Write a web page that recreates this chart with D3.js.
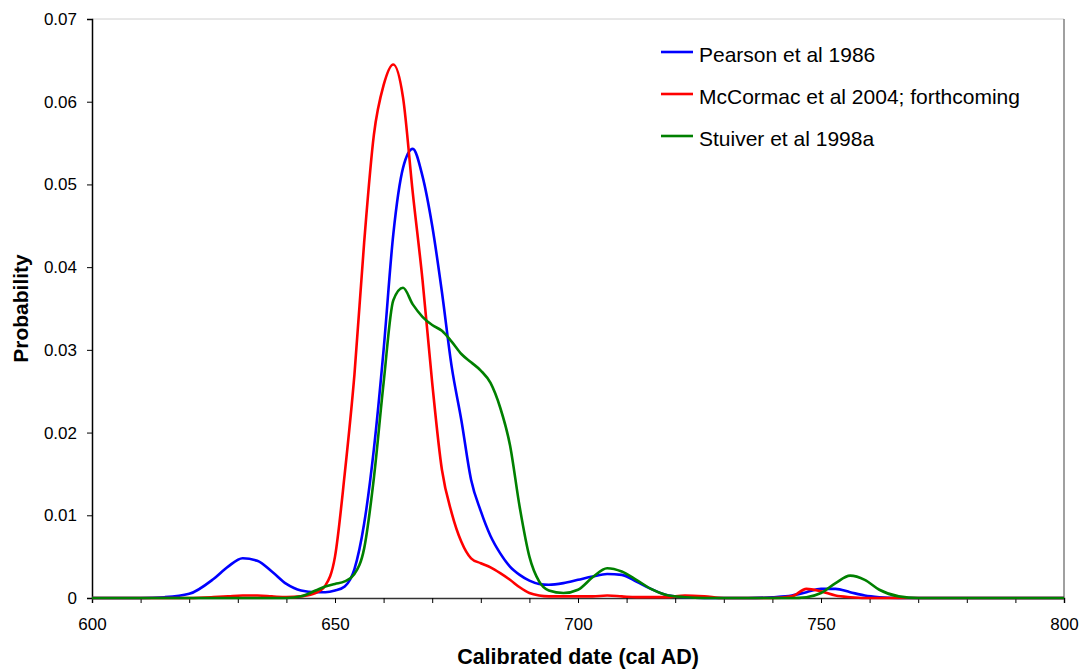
<!DOCTYPE html>
<html>
<head>
<meta charset="utf-8">
<script src="https://cdn.jsdelivr.net/npm/d3@7/dist/d3.min.js"></script>
<style>
  body { margin: 0; background: #fff; }
  text { font-family: "Liberation Sans", Arial, sans-serif; fill: #000; }
</style>
</head>
<body>
<div id="chart"></div>
<script>
// sample years shared by all three calibration curves
var years = [600, 610, 615, 620, 625, 628, 631, 634, 637, 640, 643, 646, 648, 650, 652, 654, 656, 658, 660, 662,
  664, 666, 668, 670, 672, 674, 676, 678, 680, 682, 684, 686, 688, 690, 692, 694, 697, 700, 703, 706,
  709, 712, 715, 718, 722, 726, 730, 735, 740, 744, 747, 750, 753, 756, 759, 762, 766, 770, 780, 800];

var pearson = [0, 0, 0.0001, 0.0005, 0.0023, 0.0038, 0.0048, 0.0045, 0.0032, 0.0017, 0.0009, 0.0007, 0.0007, 0.0009, 0.0014, 0.0035, 0.009, 0.018, 0.030, 0.044,
  0.052, 0.0543, 0.051, 0.045, 0.037, 0.028, 0.0215, 0.0143, 0.0105, 0.0075, 0.0054, 0.0038, 0.0028, 0.0021, 0.0017, 0.0016, 0.0018, 0.0022, 0.0026, 0.0029,
  0.0028, 0.002, 0.0011, 0.0004, 0.0001, 0, 0, 0, 0.0001, 0.0003, 0.0007, 0.0011, 0.0011, 0.0007, 0.0003, 0.0001, 0, 0, 0, 0];

var mccormac = [0, 0, 0, 0, 0.0001, 0.0002, 0.0003, 0.0003, 0.0002, 0.0001, 0.0002, 0.0006, 0.0015, 0.005, 0.015, 0.027, 0.043, 0.056, 0.062, 0.0645,
  0.0605, 0.049, 0.0385, 0.026, 0.0155, 0.0103, 0.0068, 0.0048, 0.0042, 0.0037, 0.003, 0.0022, 0.0013, 0.0006, 0.0003, 0.0002, 0.0002, 0.0002, 0.0002, 0.0003,
  0.0002, 0.0001, 0.0001, 0.0001, 0.0003, 0.0002, 0, 0, 0, 0.0002, 0.0011, 0.0008, 0.0003, 0.0001, 0, 0, 0, 0, 0, 0];

var stuiver = [0, 0, 0, 0, 0, 0, 0, 0, 0, 0, 0.0002, 0.0009, 0.0014, 0.0017, 0.002, 0.0029, 0.006, 0.0145, 0.026, 0.036,
  0.0375, 0.0355, 0.034, 0.033, 0.0323, 0.031, 0.0295, 0.0285, 0.0275, 0.026, 0.023, 0.0185, 0.011, 0.005, 0.002, 0.0009, 0.0006, 0.001, 0.0025, 0.0036,
  0.0032, 0.0022, 0.0011, 0.0004, 0.0001, 0, 0, 0, 0, 0, 0.0001, 0.0006, 0.0018, 0.0027, 0.0022, 0.001, 0.0002, 0, 0, 0];

var seriesNames = ['Pearson et al 1986', 'McCormac et al 2004; forthcoming', 'Stuiver et al 1998a'];
var seriesColors = ['#0000ff', '#ff0000', '#008000'];
var seriesValues = [pearson, mccormac, stuiver];

var yTicks = [0, 0.01, 0.02, 0.03, 0.04, 0.05, 0.06, 0.07];
var xLabels = [600, 650, 700, 750, 800];

var width = 1081, height = 670;
var margin = { left: 92, right: 17, top: 19, bottom: 72 };

var svg = d3.select('#chart').append('svg')
  .attr('width', width)
  .attr('height', height);

var x = d3.scaleLinear().domain([600, 800]).range([margin.left, width - margin.right]);
var y = d3.scaleLinear().domain([0, 0.07]).range([height - margin.bottom, margin.top]);

// frame (top / right)
svg.append('line')
  .attr('x1', x(600)).attr('x2', x(800))
  .attr('y1', y(0.07)).attr('y2', y(0.07))
  .attr('stroke', '#d0d0d0').attr('stroke-width', 1);
svg.append('line')
  .attr('x1', x(800)).attr('x2', x(800))
  .attr('y1', y(0.07)).attr('y2', y(0))
  .attr('stroke', '#808080').attr('stroke-width', 1.5);

// y axis
var yAxis = svg.append('g')
  .attr('transform', 'translate(' + x(600) + ',0)')
  .call(d3.axisLeft(y).tickValues(yTicks).tickSize(5).tickPadding(10)
    .tickFormat(function(d){ return d === 0 ? '0' : d3.format('.2f')(d); }));
yAxis.select('.domain').attr('stroke', '#000').attr('stroke-width', 1.5);
yAxis.selectAll('text').style('font-size', '17px');

// x axis, ticks every 10 years, labels every 50
var xAxis = svg.append('g')
  .attr('transform', 'translate(0,' + y(0) + ')')
  .call(d3.axisBottom(x).tickValues(d3.range(600, 801, 10)).tickSize(5).tickPadding(15)
    .tickFormat(function(d){ return xLabels.indexOf(d) >= 0 ? d : ''; }));
xAxis.select('.domain').attr('stroke', '#333').attr('stroke-width', 1.5);
xAxis.selectAll('text').style('font-size', '17px');

// curves
var line = d3.line()
  .x(function(d){ return x(d[0]); })
  .y(function(d){ return y(d[1]); })
  .curve(d3.curveMonotoneX);

seriesValues.forEach(function(vals, i){
  var pts = years.map(function(yr, j){ return [yr, vals[j]]; });
  svg.append('path')
    .datum(pts)
    .attr('d', line)
    .attr('fill', 'none')
    .attr('stroke', seriesColors[i])
    .attr('stroke-width', 2.6)
    .attr('stroke-linejoin', 'round');
});

// axis titles
svg.append('text')
  .attr('x', (x(600) + x(800)) / 2)
  .attr('y', 664)
  .attr('text-anchor', 'middle')
  .style('font-size', '21.5px')
  .style('font-weight', 'bold')
  .text('Calibrated date (cal AD)');

svg.append('text')
  .attr('transform', 'translate(28,' + ((y(0) + y(0.07)) / 2) + ') rotate(-90)')
  .attr('text-anchor', 'middle')
  .style('font-size', '21px')
  .style('font-weight', 'bold')
  .text('Probability');

// legend
var legend = svg.selectAll('.legend')
  .data(seriesNames)
  .enter().append('g')
  .attr('class', 'legend')
  .attr('transform', function(d, i){ return 'translate(661,' + (52 + i * 42) + ')'; });

legend.append('line')
  .attr('x1', 0).attr('x2', 32)
  .attr('stroke', function(d, i){ return seriesColors[i]; })
  .attr('stroke-width', 2.6);

legend.append('text')
  .attr('x', 38)
  .attr('y', 9.5)
  .style('font-size', '21px')
  .text(function(d){ return d; });
</script>
</body>
</html>
